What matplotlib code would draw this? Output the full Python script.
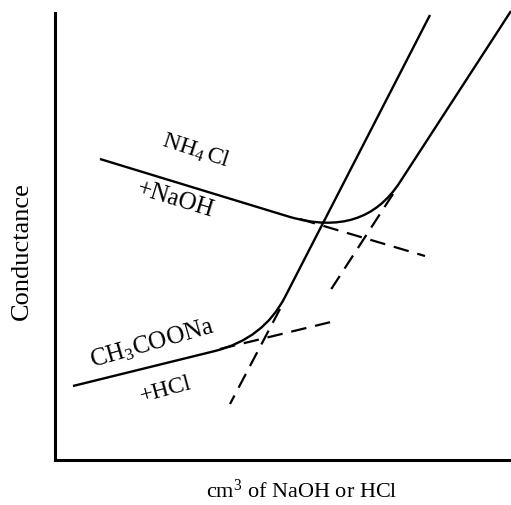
import matplotlib.pyplot as plt
from matplotlib.path import Path
from matplotlib.patches import PathPatch

plt.rcParams['font.family'] = ['Liberation Serif', 'DejaVu Serif']
plt.rcParams['mathtext.fontset'] = 'custom'
plt.rcParams['mathtext.rm'] = 'Liberation Serif'
plt.rcParams['mathtext.it'] = 'Liberation Serif'

# 読み取った値 (左下を原点とした任意単位)
# NH4Cl + NaOH : 直線 -> 曲がり -> 直線
nh4_pts = [(45, 301), (235, 243), (309, 222), (345, 278), (456, 449)]
nh4_codes = [Path.MOVETO, Path.LINETO, Path.CURVE3, Path.CURVE3, Path.LINETO]
nh4_dash1_x = [245, 370]
nh4_dash1_y = [241, 204]
nh4_dash2_x = [338, 275]
nh4_dash2_y = [266, 169]

# CH3COONa + HCl
ch3_pts = [(18, 74), (160, 109), (208.6, 121.3), (230, 163), (375, 445)]
ch3_codes = [Path.MOVETO, Path.LINETO, Path.CURVE3, Path.CURVE3, Path.LINETO]
ch3_dash1_x = [165, 280]
ch3_dash1_y = [111, 139]
ch3_dash2_x = [225, 175]
ch3_dash2_y = [151, 56]

fig = plt.figure(figsize=(5.11, 5.06), dpi=100)
ax = fig.add_axes([55 / 511, 45 / 506, 456 / 511, 447 / 506])
ax.set_xlim(0, 456)
ax.set_ylim(0, 447)
for s in ['top', 'right']:
    ax.spines[s].set_visible(False)
for s in ['left', 'bottom']:
    ax.spines[s].set_linewidth(2.2)
ax.set_xticks([])
ax.set_yticks([])

for pts, codes in [(nh4_pts, nh4_codes), (ch3_pts, ch3_codes)]:
    ax.add_patch(PathPatch(Path(pts, codes), fill=False, lw=1.7,
                           color='black', clip_on=False))

dash = dict(color='black', lw=1.6, ls=(0, (7, 4)))
ax.plot(nh4_dash1_x, nh4_dash1_y, **dash)
ax.plot(nh4_dash2_x, nh4_dash2_y, **dash)
ax.plot(ch3_dash1_x, ch3_dash1_y, **dash)
ax.plot(ch3_dash2_x, ch3_dash2_y, **dash)

ax.text(141, 310, r'NH$_4\,$Cl', fontsize=17, rotation=-18, ha='center', va='center')
ax.text(120, 261, '+NaOH', fontsize=18, rotation=-17, ha='center', va='center')
ax.text(97, 117, r'CH$_3$COONa', fontsize=18, rotation=16, ha='center', va='center')
ax.text(111, 71, '+HCl', fontsize=17, rotation=15, ha='center', va='center')

fig.text(22 / 511, 1 - 251 / 506, 'Conductance', fontsize=19, rotation=90,
         ha='center', va='center')
fig.text(302 / 511, 1 - 491 / 506, r'cm$^3$ of NaOH or HCl', fontsize=16,
         ha='center', va='center')

fig.savefig('out.png', dpi=100)
